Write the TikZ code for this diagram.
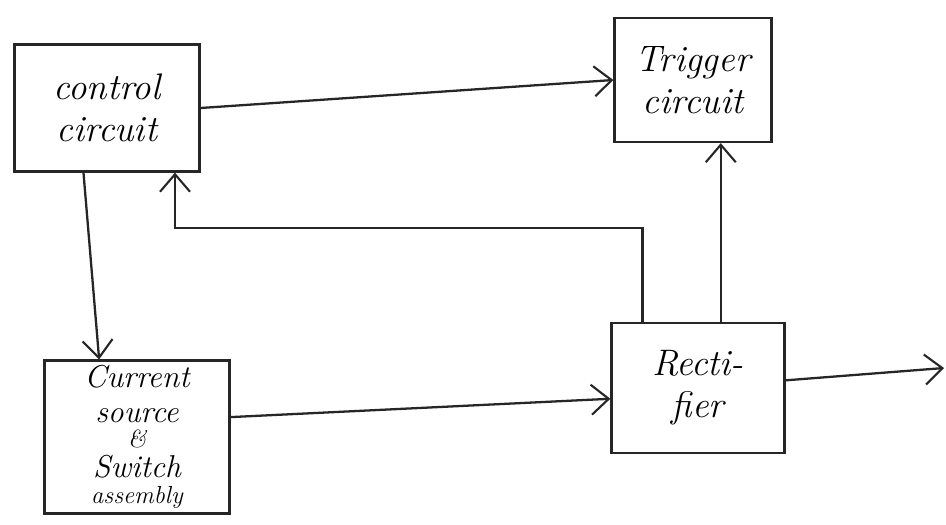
\documentclass[tikz,border=0pt]{standalone}
\usepackage{tikz}
\usetikzlibrary{arrows.meta}

\tikzset{
  blockbox/.style={draw=black!85, line width=1.3pt, align=center,
    font=\itshape\fontsize{21}{24}\selectfont, inner sep=2pt},
  flow/.style={draw=black!85, line width=1.3pt,
    -{Straight Barb[length=3.5mm,width=6mm,line width=1.2pt]}}
}
\newcommand{\smalltext}[1]{{\fontsize{14}{14}\selectfont #1}}

\begin{document}
\begin{tikzpicture}[x=0.02cm, y=-0.02cm]
\useasboundingbox (0,0) rectangle (946,524);

\node[blockbox, minimum width=3.7cm, minimum height=2.54cm] (ctrl) at (107,108) {control\\circuit};
\node[blockbox, minimum width=3.14cm, minimum height=2.48cm] (trig) at (693,80) {Trigger\\circuit};
\node[blockbox, minimum width=3.7cm, minimum height=3.06cm,
  font=\itshape\fontsize{18}{20}\selectfont] (src) at (137,437)
  {Current\\source\\[-6pt]\smalltext{\&}\\[-3pt]Switch\\[-5pt]\smalltext{assembly}};
\node[blockbox, minimum width=3.46cm, minimum height=2.6cm] (rect) at (698,388) {Recti-\\fier};

\coordinate (fb) at (175,228);
\coordinate (out) at (944,368);

\draw[flow] (ctrl.east) -- (trig.west);
\draw[flow] (ctrl.250) -- (src.116);
\draw[flow] (rect.130) |- (fb) -- (fb |- ctrl.south);
\draw[flow] (rect.71) -- (rect.71 |- trig.south);
\draw[flow] (src.12) -- (rect.187);
\draw[flow] (rect.5) -- (out);
\end{tikzpicture}
\end{document}
